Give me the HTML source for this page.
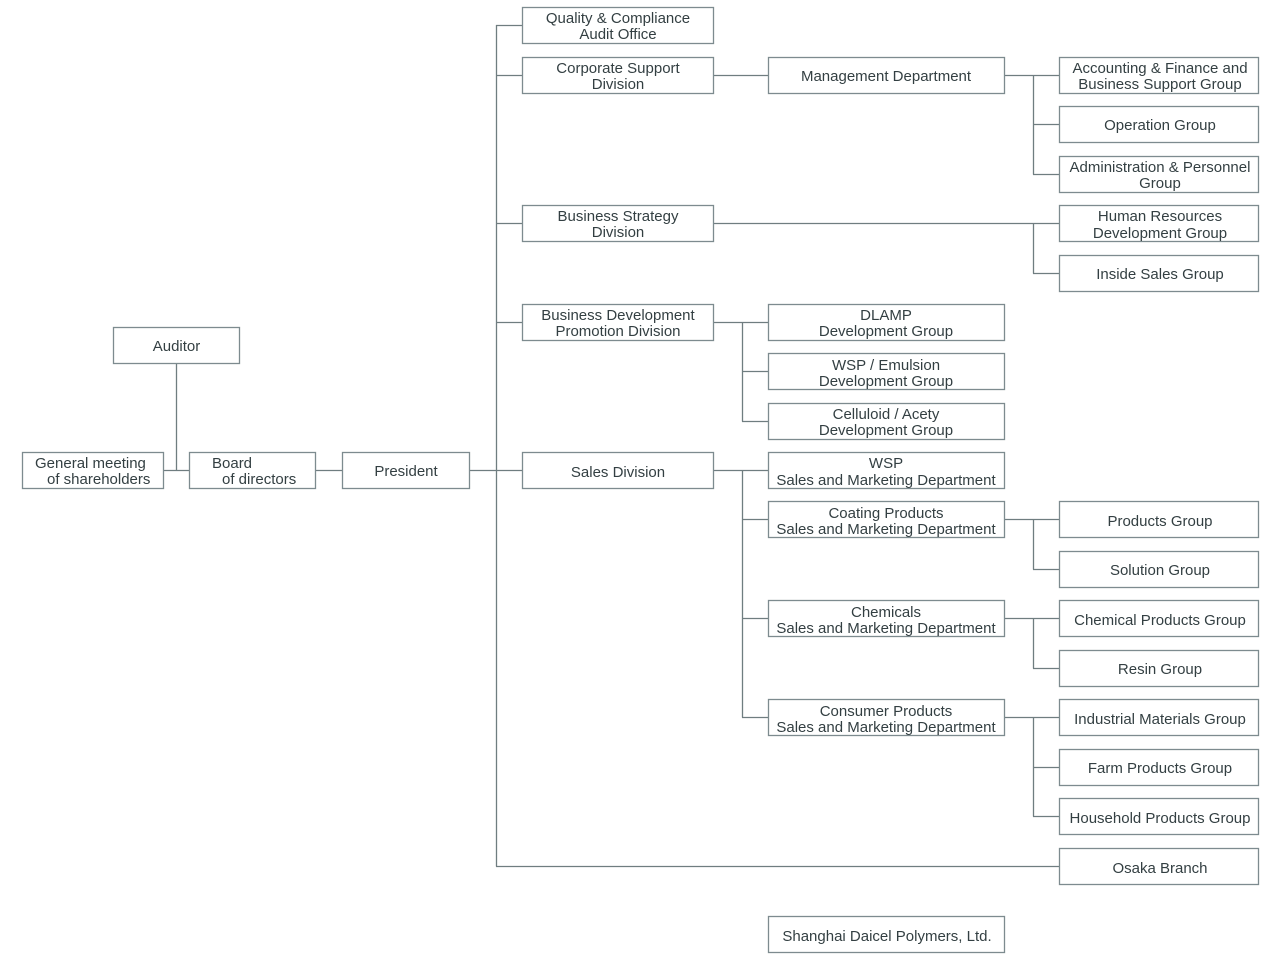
<!DOCTYPE html>
<html><head><meta charset="utf-8"><style>
html,body{margin:0;padding:0;background:#fff;}
svg{display:block;}
text{font-family:"Liberation Sans",Arial,sans-serif;font-size:15px;fill:#333f42;}
rect{fill:#fff;stroke:#7d8b8f;stroke-width:1.3;}
line,polyline{stroke:#6f7d80;stroke-width:1.3;fill:none;}
</style></head><body>
<svg width="1280" height="965" viewBox="0 0 1280 965" xmlns="http://www.w3.org/2000/svg">
<line x1="176.5" y1="363" x2="176.5" y2="470.5"/>
<line x1="163" y1="470.5" x2="189" y2="470.5"/>
<line x1="316" y1="470.5" x2="342" y2="470.5"/>
<line x1="469" y1="470.5" x2="496" y2="470.5"/>
<line x1="496.5" y1="25" x2="496.5" y2="866.5"/>
<line x1="496" y1="25.5" x2="522" y2="25.5"/>
<line x1="496" y1="75.5" x2="522" y2="75.5"/>
<line x1="496" y1="223.5" x2="522" y2="223.5"/>
<line x1="496" y1="322.5" x2="522" y2="322.5"/>
<line x1="496" y1="470.5" x2="522" y2="470.5"/>
<line x1="496" y1="866.5" x2="1059" y2="866.5"/>
<line x1="713" y1="75.5" x2="768" y2="75.5"/>
<line x1="1004" y1="75.5" x2="1059" y2="75.5"/>
<line x1="1033.5" y1="75" x2="1033.5" y2="174.5"/>
<line x1="1033" y1="124.5" x2="1059" y2="124.5"/>
<line x1="1033" y1="174.5" x2="1059" y2="174.5"/>
<line x1="713" y1="223.5" x2="1059" y2="223.5"/>
<line x1="1033.5" y1="223" x2="1033.5" y2="273.5"/>
<line x1="1033" y1="273.5" x2="1059" y2="273.5"/>
<line x1="713" y1="322.5" x2="768" y2="322.5"/>
<line x1="742.5" y1="322" x2="742.5" y2="421.5"/>
<line x1="742" y1="371.5" x2="768" y2="371.5"/>
<line x1="742" y1="421.5" x2="768" y2="421.5"/>
<line x1="713" y1="470.5" x2="768" y2="470.5"/>
<line x1="742.5" y1="470" x2="742.5" y2="717.5"/>
<line x1="742" y1="519.5" x2="768" y2="519.5"/>
<line x1="742" y1="618.5" x2="768" y2="618.5"/>
<line x1="742" y1="717.5" x2="768" y2="717.5"/>
<line x1="1004" y1="519.5" x2="1059" y2="519.5"/>
<line x1="1033.5" y1="519" x2="1033.5" y2="569.5"/>
<line x1="1033" y1="569.5" x2="1059" y2="569.5"/>
<line x1="1004" y1="618.5" x2="1059" y2="618.5"/>
<line x1="1033.5" y1="618" x2="1033.5" y2="668.5"/>
<line x1="1033" y1="668.5" x2="1059" y2="668.5"/>
<line x1="1004" y1="717.5" x2="1059" y2="717.5"/>
<line x1="1033.5" y1="717" x2="1033.5" y2="816.5"/>
<line x1="1033" y1="767.5" x2="1059" y2="767.5"/>
<line x1="1033" y1="816.5" x2="1059" y2="816.5"/>

<rect x="113.5" y="327.5" width="126" height="36"/><text x="176.5" y="351" text-anchor="middle">Auditor</text>
<rect x="22.5" y="452.5" width="141" height="36"/><text x="35" y="468">General meeting</text><text x="47" y="484">of shareholders</text>
<rect x="189.5" y="452.5" width="126" height="36"/><text x="212" y="468">Board</text><text x="222" y="484">of directors</text>
<rect x="342.5" y="452.5" width="127" height="36"/><text x="406" y="476" text-anchor="middle">President</text>

<g text-anchor="middle">
<rect x="522.5" y="7.5" width="191" height="36"/><text x="618" y="23">Quality &amp; Compliance</text><text x="618" y="39">Audit Office</text>
<rect x="522.5" y="57.5" width="191" height="36"/><text x="618" y="73">Corporate Support</text><text x="618" y="89">Division</text>
<rect x="522.5" y="205.5" width="191" height="36"/><text x="618" y="221">Business Strategy</text><text x="618" y="237">Division</text>
<rect x="522.5" y="304.5" width="191" height="36"/><text x="618" y="320">Business Development</text><text x="618" y="336">Promotion Division</text>
<rect x="522.5" y="452.5" width="191" height="36"/><text x="618" y="477">Sales Division</text>

<rect x="768.5" y="57.5" width="236" height="36"/><text x="886" y="81">Management Department</text>
<rect x="768.5" y="304.5" width="236" height="36"/><text x="886" y="320">DLAMP</text><text x="886" y="336">Development Group</text>
<rect x="768.5" y="353.5" width="236" height="36"/><text x="886" y="370">WSP / Emulsion</text><text x="886" y="386">Development Group</text>
<rect x="768.5" y="403.5" width="236" height="36"/><text x="886" y="419">Celluloid / Acety</text><text x="886" y="435">Development Group</text>
<rect x="768.5" y="452.5" width="236" height="36"/><text x="886" y="468">WSP</text><text x="886" y="485">Sales and Marketing Department</text>
<rect x="768.5" y="501.5" width="236" height="36"/><text x="886" y="518">Coating Products</text><text x="886" y="534">Sales and Marketing Department</text>
<rect x="768.5" y="600.5" width="236" height="36"/><text x="886" y="617">Chemicals</text><text x="886" y="633">Sales and Marketing Department</text>
<rect x="768.5" y="699.5" width="236" height="36"/><text x="886" y="716">Consumer Products</text><text x="886" y="732">Sales and Marketing Department</text>
<rect x="768.5" y="916.5" width="236" height="36"/><text x="887" y="941">Shanghai Daicel Polymers, Ltd.</text>

<rect x="1059.5" y="57.5" width="199" height="36"/><text x="1160" y="73">Accounting &amp; Finance and</text><text x="1160" y="89">Business Support Group</text>
<rect x="1059.5" y="106.5" width="199" height="36"/><text x="1160" y="130">Operation Group</text>
<rect x="1059.5" y="156.5" width="199" height="36"/><text x="1160" y="172">Administration &amp; Personnel</text><text x="1160" y="188">Group</text>
<rect x="1059.5" y="205.5" width="199" height="36"/><text x="1160" y="221">Human Resources</text><text x="1160" y="238">Development Group</text>
<rect x="1059.5" y="255.5" width="199" height="36"/><text x="1160" y="279">Inside Sales Group</text>
<rect x="1059.5" y="501.5" width="199" height="36"/><text x="1160" y="526">Products Group</text>
<rect x="1059.5" y="551.5" width="199" height="36"/><text x="1160" y="575">Solution Group</text>
<rect x="1059.5" y="600.5" width="199" height="36"/><text x="1160" y="625">Chemical Products Group</text>
<rect x="1059.5" y="650.5" width="199" height="36"/><text x="1160" y="674">Resin Group</text>
<rect x="1059.5" y="699.5" width="199" height="36"/><text x="1160" y="724">Industrial Materials Group</text>
<rect x="1059.5" y="749.5" width="199" height="36"/><text x="1160" y="773">Farm Products Group</text>
<rect x="1059.5" y="798.5" width="199" height="36"/><text x="1160" y="823">Household Products Group</text>
<rect x="1059.5" y="848.5" width="199" height="36"/><text x="1160" y="873">Osaka Branch</text>
</g>
</svg>
</body></html>
